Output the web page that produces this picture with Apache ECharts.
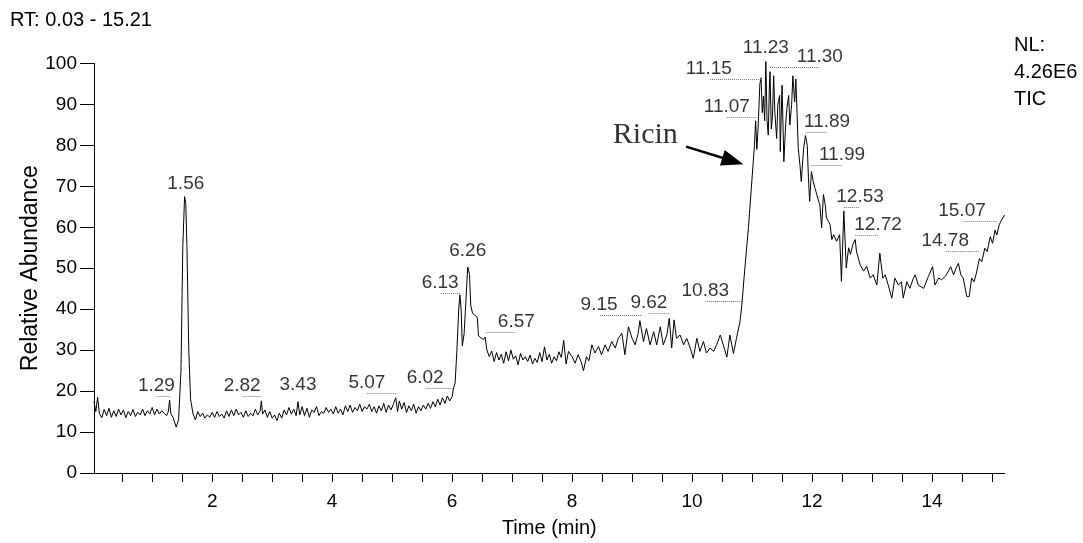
<!DOCTYPE html>
<html>
<head>
<meta charset="utf-8">
<script src="https://cdn.jsdelivr.net/npm/echarts@6/dist/echarts.min.js"></script>
<style>
html,body{margin:0;padding:0;background:#fff;}
#chart{width:1083px;height:543px;}
</style>
</head>
<body>
<div id="chart"></div>
<script>
// ---- data ----
const rtRange = [0.03, 15.21];
const xTickValues = [0.5,1,1.5,2,2.5,3,3.5,4,4.5,5,5.5,6,6.5,7,7.5,8,8.5,9,9.5,10,10.5,11,11.5,12,12.5,13,13.5,14,14.5,15];
const xLabelValues = [2,4,6,8,10,12,14];
const yTickInterval = 10;

// TIC trace [time (min), relative abundance]
const ticEarly = [
[0.03,17.5],[0.06,15],[0.09,18.5],[0.12,14.5],[0.16,13.5],[0.2,15.5],[0.24,14],[0.28,15.8],[0.32,13.6],[0.36,15.2],
[0.4,13.8],[0.44,15.6],[0.48,14.2],[0.52,15.4],[0.56,13.5],[0.6,15],[0.64,14],[0.68,15.5],[0.72,13.8],[0.76,14.8],
[0.8,14.2],[0.84,15.6],[0.88,14],[0.92,15.2],[0.96,14.4],[1.0,16],[1.04,14.2],[1.08,15.6],[1.12,14.4],[1.16,15.2],
[1.2,14.6],[1.24,14],[1.27,15],[1.29,17.8],[1.31,14.5],[1.35,13.5],[1.4,11.2],[1.44,13],[1.48,25],[1.51,55],
[1.54,67.5],[1.56,66],[1.58,55],[1.61,30],[1.64,18],[1.68,14.5],[1.72,13],[1.76,15],
[1.8,13.8],[1.84,14.6],[1.88,13.4],[1.92,14.2],[1.96,13.6],[2.0,14.8],[2.04,13.6],[2.08,15],[2.12,13.8],[2.16,14.4],
[2.2,13.4],[2.24,15.2],[2.28,13.8],[2.32,15.4],[2.36,14],[2.4,15.6],[2.44,14.2],[2.48,14.8],[2.52,13.6],[2.56,15.2],
[2.6,13.8],[2.64,14.6],[2.68,14],[2.72,15.6],[2.76,14.2],[2.8,15.2],[2.82,17.6],[2.84,14.4],[2.88,15.4],[2.92,13.6],
[2.96,15],[3.0,13.4],[3.04,14.2],[3.08,12.8],[3.12,14.6],[3.16,13.4],[3.2,15.4],[3.24,14.2],[3.28,16],[3.32,14.4],
[3.36,15.6],[3.4,14],[3.43,17.4],[3.46,14.2],[3.5,16.2],[3.54,14],[3.58,15.8],[3.62,13.6],[3.66,15.4],[3.7,14.8],
[3.74,16.2],[3.78,14],[3.82,15],[3.86,14.6],[3.9,16],[3.94,14.8],[3.98,15.6]
];
const ticMiddle = [
[4.02,14.4],[4.06,16.2],[4.1,14.6],[4.14,15.6],[4.18,14.2],[4.22,16.4],[4.26,15],[4.3,16.6],[4.34,14.8],[4.38,16],
[4.42,15.2],[4.46,16.8],[4.5,15],[4.54,16.2],[4.58,15.6],[4.62,16.8],[4.66,15],[4.7,16.2],[4.74,14.6],[4.78,16.4],
[4.82,15.2],[4.86,17],[4.9,14.8],[4.94,16.6],[4.98,15.4],[5.02,16.8],[5.06,18.4],[5.09,15],[5.12,17.6],[5.16,15.6],
[5.2,17.2],[5.24,14.8],[5.28,16.4],[5.32,15.2],[5.36,16.8],[5.4,14.6],[5.44,16.2],[5.48,15.2],[5.52,16.6],[5.56,15.6],
[5.6,17],[5.64,15.8],[5.68,17.4],[5.72,16.2],[5.76,18],[5.8,16.6],[5.84,18.4],[5.88,17],[5.92,18.8],[5.96,17.6],
[6.0,18.6],[6.02,20.5],[6.05,22],[6.08,30],[6.11,40],[6.13,43.5],[6.15,40],[6.17,31],[6.2,34],[6.23,42],
[6.26,50.3],[6.29,48.5],[6.31,41],[6.34,39],[6.38,38.5],[6.42,38],[6.44,33.5],[6.48,33],[6.52,32.6],[6.55,33.2],
[6.58,30],[6.62,28.4],[6.66,29.8],[6.7,27.2],[6.74,29.4],[6.78,27.6],[6.82,29],[6.86,26.8],[6.9,29.6],[6.94,27.4],
[6.98,30],[7.02,27.8],[7.06,28.6],[7.1,26.4],[7.14,29.2],[7.18,27.6],[7.22,28.4],[7.26,27.2],[7.3,28.8],[7.34,26.6],
[7.38,28],[7.42,27],[7.46,29.4],[7.5,27.2],[7.54,30.8],[7.58,27.6],[7.62,29],[7.66,26.8],[7.7,28.4],[7.74,27.4],
[7.78,29.6],[7.82,28.2],[7.86,32.4],[7.9,26.6],[7.94,29.7],[8.0,28.4],[8.05,26.8],[8.1,28.9],[8.15,27.2],[8.19,25.0],
[8.24,28.4],[8.28,27.4],[8.33,31.3],[8.38,29.3],[8.44,30.9],[8.49,28.9],[8.55,31.3],[8.6,29.7],[8.66,32.1],[8.72,30.5],
[8.77,32.9],[8.83,34.1],[8.88,28.9],[8.94,35.7],[9.0,32.9],[9.05,31.3],[9.1,34],[9.13,37.2],[9.19,32.1],[9.24,35.3],
[9.3,31.3],[9.36,34.5],[9.41,31.3],[9.47,35.7],[9.52,31.3],[9.58,33.7],[9.62,37.8],[9.66,30.5],[9.7,37.4],[9.74,32.9],
[9.8,33.7],[9.86,31.3],[9.91,32.9],[9.97,30.5],[10.02,28.0],[10.08,32.9],[10.13,29.7],[10.19,32.1],[10.24,29.3],[10.3,30.5],
[10.36,29.7],[10.41,31.3],[10.47,33.7],[10.52,31.3],[10.58,28.3],[10.63,33.7],[10.69,29.2],[10.74,32.9]
];
const ticLate = [
[10.8,37],[10.83,41.1],[10.88,50],[10.94,60],[11.0,72],[11.04,80],[11.06,86],[11.08,79],[11.1,84],[11.13,95],
[11.15,96.5],[11.17,88],[11.19,92],[11.21,86],[11.23,100.5],[11.25,86],[11.27,82.5],[11.29,95],[11.3,98],[11.32,84],
[11.34,87],[11.36,97],[11.38,88],[11.41,81.7],[11.43,90],[11.46,92.2],[11.47,78.5],[11.5,94.7],[11.53,76],[11.56,85],
[11.58,89],[11.61,92.2],[11.63,85],[11.66,90],[11.68,97],[11.71,90.6],[11.73,96.2],[11.75,88],[11.77,79.3],[11.8,75],
[11.82,71.2],[11.86,79.3],[11.89,82.4],[11.92,80],[11.94,72],[11.96,66.3],[11.99,73.6],[12.02,71.2],[12.05,69.5],[12.08,68],
[12.11,66.3],[12.13,65.5],[12.16,59.9],[12.19,68],[12.22,65.5],[12.24,62.3],[12.27,61.5],[12.3,60.7],[12.33,57],[12.36,58.2],
[12.41,56.6],[12.46,58.2],[12.49,46.8],[12.53,64],[12.57,50.1],[12.61,55],[12.64,53.4],[12.68,55.8],[12.72,57],[12.74,54.2],
[12.8,50.9],[12.86,49.3],[12.91,50.5],[12.97,47.6],[13.02,48.4],[13.08,45.9],[13.13,53.7],[13.18,47.6],[13.22,48.4],[13.27,45.9],
[13.33,42.7],[13.38,47.6],[13.44,45.9],[13.49,46.7],[13.52,42.7],[13.58,46.7],[13.63,45.1],[13.69,47.6],[13.72,48.4],[13.77,45.9],
[13.86,45.1],[13.94,48],[14.01,50.4],[14.05,45.9],[14.11,47.6],[14.16,47.2],[14.22,48],[14.27,49.2],[14.31,50.4],[14.36,48.4],
[14.4,50],[14.44,51.2],[14.48,48.4],[14.52,47.6],[14.58,43.1],[14.62,43.1],[14.66,47.6],[14.7,46.7],[14.74,48.8],[14.79,52.4],
[14.83,51.6],[14.88,54.9],[14.92,54.1],[14.97,57.7],[15.01,56.1],[15.05,59.3],[15.08,58.1],[15.12,60.6],[15.16,61.8],[15.21,63]
];
const tic = ticEarly.concat(ticMiddle, ticLate);

// peak annotations: [peak RT, label centre RT, label level]
const peakLabels = [
[1.29,1.07,18.8],[1.56,1.56,68.1],[2.82,2.5,18.8],[3.43,3.43,19.1],[5.07,4.58,19.5],[6.02,5.55,20.8],
[6.13,5.8,43.8],[6.26,6.26,51.6],[6.57,7.07,34.3],[9.15,8.45,38.5],[9.62,9.28,39],[10.83,10.22,41.9],
[11.07,10.58,86.8],[11.15,10.28,96.2],[11.23,11.23,101.3],[11.30,12.13,99.2],[11.89,12.25,83.1],[11.99,12.5,75.1],
[12.53,12.8,64.9],[12.72,13.1,58.1],[14.78,14.22,54.2],[15.07,14.5,61.5]
];
// "Ricin" text anchor and arrow [start, tip]
const ricinText = [9.22, 82.4];
const ricinArrow = [[9.9, 79.7], [10.68, 76.2]];

// ---- chart ----
const FONT = 'Liberation Sans, Arial, sans-serif';
const chart = echarts.init(document.getElementById('chart'), null, {renderer: 'canvas'});

const leaderData = peakLabels.filter(p => p[0] !== p[1]).map(p => [
  {coord: [p[0], p[2]]}, {coord: [p[1], p[2]]}
]);

chart.setOption({
  backgroundColor: '#fff',
  animation: false,
  title: [
    {text: 'RT: 0.03 - 15.21', left: 10, top: 10, padding: 0,
     textStyle: {fontSize: 20, fontWeight: 'normal', fontFamily: FONT, color: '#000'}},
    {text: 'NL:\n4.26E6\nTIC', left: 1014, top: 32, padding: 0,
     textStyle: {fontSize: 20, fontWeight: 'normal', fontFamily: FONT, color: '#000', lineHeight: 27}}
  ],
  grid: {left: 94, right: 78.4, top: 63.5, bottom: 67.5, containLabel: false},
  xAxis: {
    type: 'value', min: rtRange[0], max: rtRange[1],
    name: 'Time (min)', nameLocation: 'middle', nameGap: 45, nameMoveOverlap: false,
    nameTextStyle: {fontSize: 20, fontFamily: FONT, color: '#000'},
    axisLine: {show: true, lineStyle: {color: '#000', width: 1}},
    axisTick: {show: true, customValues: xTickValues, length: 9, lineStyle: {color: '#000', width: 1}},
    axisLabel: {customValues: xLabelValues, fontSize: 19, fontFamily: FONT, color: '#000', margin: 19},
    splitLine: {show: false}
  },
  yAxis: {
    type: 'value', min: 0, max: 100, interval: yTickInterval,
    name: 'Relative Abundance', nameLocation: 'middle', nameGap: 52, nameRotate: 90, nameMoveOverlap: false,
    nameTextStyle: {fontSize: 23, fontFamily: FONT, color: '#000'},
    axisLine: {show: true, lineStyle: {color: '#000', width: 1}},
    axisTick: {show: true, length: 14, lineStyle: {color: '#000', width: 1}},
    axisLabel: {fontSize: 19, fontFamily: FONT, color: '#000', margin: 17},
    splitLine: {show: false}
  },
  series: [
    {
      name: 'TIC', type: 'line', data: tic, showSymbol: false, symbol: 'none', clip: false,
      lineStyle: {color: '#000', width: 1}, silent: true
    },
    {
      name: 'peaks', type: 'scatter', clip: false, symbolSize: 0, silent: true,
      data: peakLabels.map(p => ({value: [p[1], p[2]], name: p[0].toFixed(2)})),
      label: {show: true, position: 'top', distance: 1, formatter: d => d.name,
        fontSize: 19, fontFamily: FONT, color: '#000'},
      markLine: {
        silent: true, symbol: 'none', animation: false,
        label: {show: false},
        lineStyle: {type: 'dotted', color: '#777', width: 1},
        data: leaderData
      }
    },
    {
      name: 'ricin', type: 'scatter', clip: false, symbolSize: 0, silent: true,
      data: [{value: ricinText, name: 'Ricin'}],
      label: {show: true, position: 'inside', formatter: 'Ricin',
        fontSize: 30, fontFamily: 'Liberation Serif, Times New Roman, serif', color: '#000'},
      markLine: {
        silent: true, symbol: ['none', 'triangle'], symbolSize: [16, 22], animation: false,
        label: {show: false},
        lineStyle: {type: 'solid', color: '#000', width: 2.5},
        data: [[{coord: ricinArrow[0]}, {coord: ricinArrow[1]}]]
      }
    }
  ]
});
</script>
</body>
</html>
